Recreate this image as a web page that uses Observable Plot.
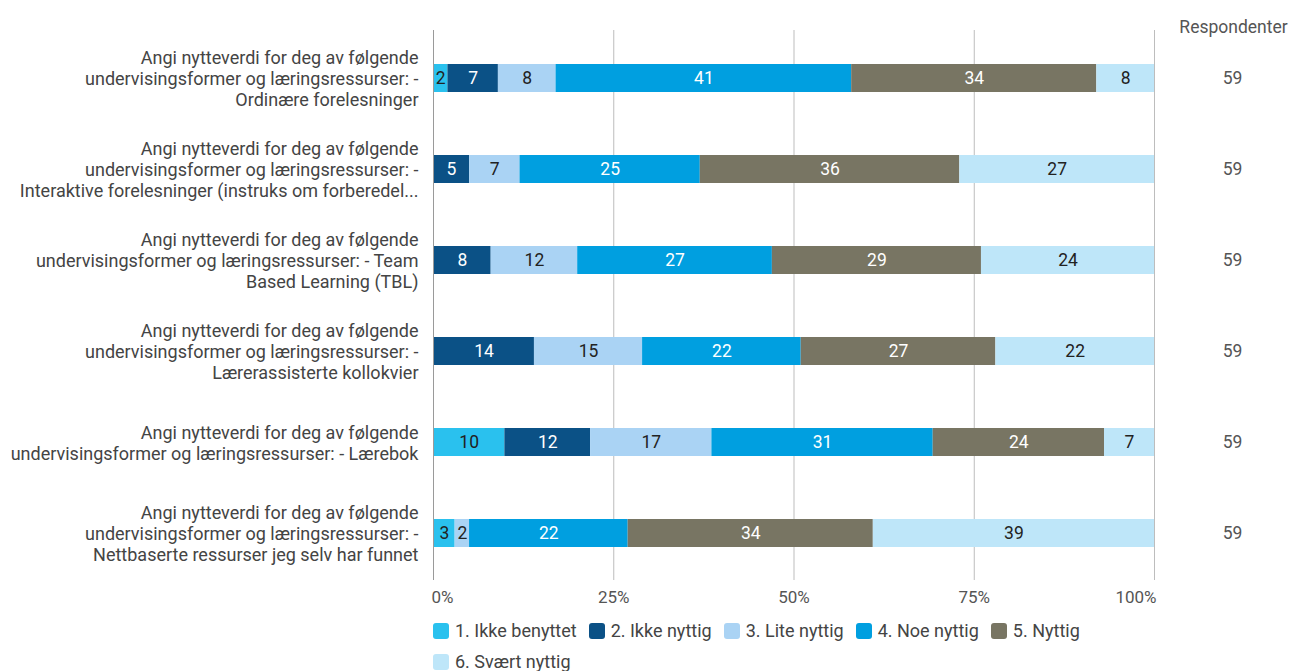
<!DOCTYPE html>
<html>
<head>
<meta charset="utf-8">
<script src="https://cdn.jsdelivr.net/npm/d3@7"></script>
<script src="https://cdn.jsdelivr.net/npm/@observablehq/plot@0.6"></script>
<style>
  body { margin: 0; background: #fff; font-family: Roboto, "Noto Sans", sans-serif; }
  #legend { margin-left: 433px; width: 730px; display: flex; flex-wrap: wrap; column-gap: 12px; row-gap: 10px; margin-top: 8px; }
  .item { display: flex; align-items: center; font-size: 18px; color: #444; line-height: 21px; }
  .sw { width: 16px; height: 16px; border-radius: 3px; margin-right: 6px; }
</style>
</head>
<body>
<div id="chart"></div>
<div id="legend"></div>
<script>
const categories = ["1. Ikke benyttet", "2. Ikke nyttig", "3. Lite nyttig", "4. Noe nyttig", "5. Nyttig", "6. Svært nyttig"];
const questions = [
  "Angi nytteverdi for deg av følgende\nundervisingsformer og læringsressurser: -\nOrdinære forelesninger",
  "Angi nytteverdi for deg av følgende\nundervisingsformer og læringsressurser: -\nInteraktive forelesninger (instruks om forberedel...",
  "Angi nytteverdi for deg av følgende\nundervisingsformer og læringsressurser: - Team\nBased Learning (TBL)",
  "Angi nytteverdi for deg av følgende\nundervisingsformer og læringsressurser: -\nLærerassisterte kollokvier",
  "Angi nytteverdi for deg av følgende\nundervisingsformer og læringsressurser: - Lærebok",
  "Angi nytteverdi for deg av følgende\nundervisingsformer og læringsressurser: -\nNettbaserte ressurser jeg selv har funnet"
];
const ikkeBenyttet = [2, 0, 0, 0, 10, 3];
const ikkeNyttig   = [7, 5, 8, 14, 12, 0];
const liteNyttig   = [8, 7, 12, 15, 17, 2];
const noeNyttig    = [41, 25, 27, 22, 31, 22];
const nyttig       = [34, 36, 29, 27, 24, 34];
const svaertNyttig = [8, 27, 24, 22, 7, 39];
const respondents  = [59, 59, 59, 59, 59, 59];
const xTicks = [0, 0.25, 0.5, 0.75, 1];
const respondentHeader = "Respondenter";

const colors = ["#2ac1ee", "#0b5186", "#aad3f4", "#009fe0", "#787563", "#bee6f9"];
const textColors = ["#222", "#fff", "#222", "#fff", "#fff", "#222"];

const series = [ikkeBenyttet, ikkeNyttig, liteNyttig, noeNyttig, nyttig, svaertNyttig];
const rows = [];
questions.forEach((q, i) => {
  categories.forEach((c, j) => {
    rows.push({q, cat: c, ci: j, value: series[j][i]});
  });
});
const resp = questions.map((q, i) => ({q, n: respondents[i]}));

const tickOpts = {tickSize: 0, tickPadding: 10, fontSize: 17, fill: "#555", label: null, tickFormat: d3.format(".0%")};

const chart = Plot.plot({
  width: 1290,
  height: 612,
  marginLeft: 433,
  marginRight: 136,
  marginTop: 30,
  marginBottom: 32,
  style: {fontFamily: "Roboto, 'Noto Sans', sans-serif", fontSize: "18px", color: "#444"},
  x: {domain: [0, 1], axis: null, label: null},
  y: {domain: questions, paddingInner: 0.694, paddingOuter: 0.356, axis: null, label: null},
  color: {domain: categories, range: colors},
  marks: [
    Plot.gridX(xTicks.slice(1), {stroke: "#bdbdbd", strokeOpacity: 1}),
    Plot.barX(rows, Plot.stackX({offset: "normalize", x: "value", y: "q", fill: "cat"})),
    Plot.text(rows, Plot.stackX({offset: "normalize", x: "value", y: "q", z: "cat",
      text: d => d.value > 0 ? String(d.value) : null,
      fill: d => textColors[d.ci], fontSize: 17.5})),
    Plot.ruleX([0], {stroke: "#9a9a9a"}),
    Plot.axisY({tickSize: 0, tickPadding: 15, fontSize: 18, lineHeight: 1.17, fill: "#444", label: null}),
    Plot.axisX([xTicks[0]], {...tickOpts, textAnchor: "start", dx: -2}),
    Plot.axisX(xTicks.slice(1, -1), {...tickOpts}),
    Plot.axisX([xTicks[4]], {...tickOpts, textAnchor: "end", dx: 2}),
    Plot.text(resp, {x: () => 1, y: "q", text: d => String(d.n), dx: 78, fill: "#555", fontSize: 17.5}),
    Plot.text([respondentHeader], {frameAnchor: "top-right", dx: 79, dy: -10, text: d => d, fill: "#555", fontSize: 17.5, textAnchor: "middle"})
  ]
});
document.getElementById("chart").appendChild(chart);

const legend = d3.select("#legend");
categories.forEach((c, i) => {
  const it = legend.append("div").attr("class", "item");
  it.append("div").attr("class", "sw").style("background", colors[i]);
  it.append("span").text(c);
});
</script>
</body>
</html>
